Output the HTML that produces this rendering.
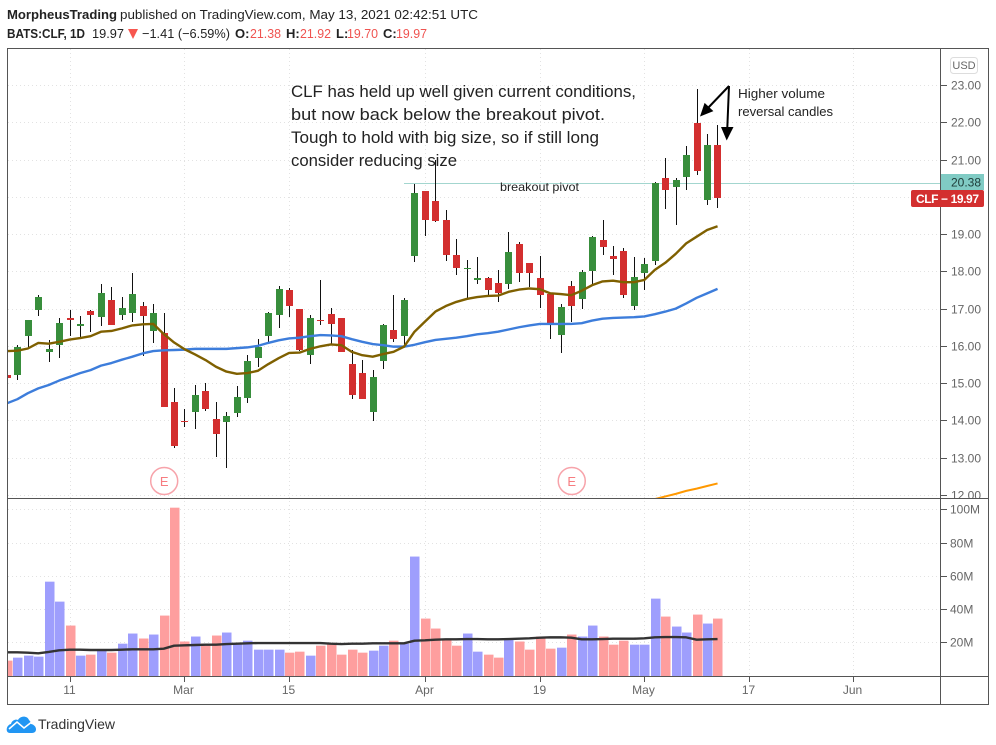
<!DOCTYPE html>
<html lang="en">
<head>
<meta charset="utf-8">
<title>CLF chart</title>
<style>
html,body{margin:0;padding:0;background:#fff;width:996px;height:745px;overflow:hidden}
svg{display:block;font-family:"Liberation Sans",sans-serif}
.axis{font-size:12px;fill:#666}
.hdr{font-size:13px;fill:#222}
.note{font-size:16.5px;fill:#222}
</style>
</head>
<body>
<svg id="chart" width="996" height="745" viewBox="0 0 996 745" xmlns="http://www.w3.org/2000/svg">
<defs>
<clipPath id="main-clip"><rect x="8" y="49" width="932" height="449"/></clipPath>
<clipPath id="vol-clip"><rect x="8" y="499" width="932" height="177"/></clipPath>
<clipPath id="axis-clip"><rect x="941" y="49" width="47" height="449"/></clipPath>
</defs>
<g>
<text class="hdr" x="7" y="19" font-weight="bold" textLength="110" lengthAdjust="spacingAndGlyphs">MorpheusTrading</text>
<text class="hdr" x="120" y="19" textLength="358" lengthAdjust="spacingAndGlyphs">published on TradingView.com, May 13, 2021 02:42:51 UTC</text>
<text class="hdr" x="7" y="38" font-weight="bold" textLength="78" lengthAdjust="spacingAndGlyphs">BATS:CLF, 1D</text>
<text class="hdr" x="92" y="38" textLength="32" lengthAdjust="spacingAndGlyphs">19.97</text>
<polygon points="128,29 138,29 133,39" fill="#f7564f"/>
<text class="hdr" x="142" y="38" textLength="88" lengthAdjust="spacingAndGlyphs">−1.41 (−6.59%)</text>
<text class="hdr" x="235" y="38" font-weight="bold">O:</text>
<text class="hdr" x="250" y="38" style="fill:#ef5350" textLength="31" lengthAdjust="spacingAndGlyphs">21.38</text>
<text class="hdr" x="286" y="38" font-weight="bold">H:</text>
<text class="hdr" x="300" y="38" style="fill:#ef5350" textLength="31" lengthAdjust="spacingAndGlyphs">21.92</text>
<text class="hdr" x="336" y="38" font-weight="bold">L:</text>
<text class="hdr" x="347" y="38" style="fill:#ef5350" textLength="31" lengthAdjust="spacingAndGlyphs">19.70</text>
<text class="hdr" x="383" y="38" font-weight="bold">C:</text>
<text class="hdr" x="396" y="38" style="fill:#ef5350" textLength="31" lengthAdjust="spacingAndGlyphs">19.97</text>
</g>
<g id="grid"></g>
<g id="volume-layer" clip-path="url(#vol-clip)"></g>
<line x1="404" x2="940" y1="183.5" y2="183.5" stroke="#a3d6cf" stroke-width="1"/>
<g id="main-layer" clip-path="url(#main-clip)"></g>
<g id="axes"></g>
<g fill="none" stroke="#555" stroke-width="1">
<rect x="7.5" y="48.5" width="981" height="656"/>
<line x1="7.5" x2="988.5" y1="498.5" y2="498.5"/>
<line x1="7.5" x2="988.5" y1="676.5" y2="676.5"/>
<line x1="940.5" x2="940.5" y1="48.5" y2="704.5"/>
</g>
<g>
<text class="note" x="291" y="97" textLength="345" lengthAdjust="spacingAndGlyphs">CLF has held up well given current conditions,</text>
<text class="note" x="291" y="120" textLength="314" lengthAdjust="spacingAndGlyphs">but now back below the breakout pivot.</text>
<text class="note" x="291" y="143" textLength="308" lengthAdjust="spacingAndGlyphs">Tough to hold with big size, so if still long</text>
<text class="note" x="291" y="166" textLength="166" lengthAdjust="spacingAndGlyphs">consider reducing size</text>
<text x="500" y="191" font-size="12" fill="#222" textLength="79" lengthAdjust="spacingAndGlyphs">breakout pivot</text>
<text x="738" y="98" font-size="12.5" fill="#222" textLength="87" lengthAdjust="spacingAndGlyphs">Higher volume</text>
<text x="738" y="116" font-size="12.5" fill="#222" textLength="95" lengthAdjust="spacingAndGlyphs">reversal candles</text>
</g>
<g>
<line x1="729" y1="86" x2="707" y2="109" stroke="#000" stroke-width="2"/>
<polygon points="700,116.5 713.4,111.1 704.6,102.9" fill="#000"/>
<line x1="729" y1="86" x2="727.3" y2="128" stroke="#000" stroke-width="2"/>
<polygon points="726.7,140.5 721,127 733.5,127" fill="#000"/>
</g>
<g>
<rect x="950.5" y="57.5" width="27" height="16" rx="3" fill="#fff" stroke="#ddd"/>
<text x="964" y="69" font-size="11" fill="#666" text-anchor="middle">USD</text>
<rect x="941" y="174" width="43" height="16" fill="#80cbc4"/>
<text x="951" y="186.5" font-size="12" fill="#1d3b38">20.38</text>
<rect x="911" y="190" width="73" height="17" rx="2" fill="#d32f2f"/>
<text x="916" y="203" font-size="12" font-weight="bold" fill="#fff" textLength="63">CLF − 19.97</text>
</g>
<g>
<path d="M10 733 C5 733 6 725 11 724 C12 720 16 719 18 720 C20 716 27 715 29 720 C31 722 31 723 31 724 C37 725 38 733 32 733 Z" fill="#2196f3"/>
<polyline points="9,729 17,722 24,728 33,721" fill="none" stroke="#fff" stroke-width="1.5"/>
<text x="38" y="729" font-size="14" fill="#333" textLength="77" lengthAdjust="spacingAndGlyphs">TradingView</text>
</g>
</svg>
<script>
const opens=[15.22,15.22,16.26,16.96,15.84,16.02,16.75,16.53,16.94,16.77,17.23,16.83,16.88,17.07,16.40,16.35,14.49,13.98,14.23,14.79,14.04,13.96,14.20,14.60,15.67,16.26,16.83,17.50,16.99,15.75,16.69,16.86,16.75,15.51,15.27,14.23,15.59,16.43,16.26,18.41,20.16,19.89,19.38,18.44,18.06,17.77,17.82,17.69,17.66,18.73,18.22,17.82,17.39,16.29,17.61,17.26,18.01,18.84,18.41,18.55,17.07,17.96,18.28,20.50,20.26,20.53,21.98,19.91,21.38];
const highs=[15.22,16.02,16.69,17.36,16.16,16.75,16.96,16.80,16.96,17.66,17.58,17.31,17.96,17.18,17.12,16.88,14.87,14.31,14.95,15.00,14.49,14.23,14.92,15.75,16.18,16.91,17.61,17.55,16.99,16.83,17.77,17.02,16.75,15.89,15.62,15.35,16.59,17.36,17.28,20.34,20.16,20.99,19.65,18.87,18.30,18.38,17.85,18.04,19.06,18.79,18.22,18.41,17.39,17.12,17.74,18.04,18.95,19.38,18.68,18.63,18.38,18.36,20.40,21.04,20.50,21.36,22.89,21.68,21.92];
const lows=[15.14,15.08,15.97,16.80,15.57,15.67,16.26,16.24,16.37,16.53,16.56,16.69,16.64,15.73,16.08,14.36,13.26,13.82,13.77,14.25,13.02,12.72,14.09,14.47,15.43,16.10,16.48,16.77,15.86,15.51,16.56,16.05,15.84,14.57,14.57,13.98,15.38,16.10,15.97,18.25,18.95,19.32,18.28,17.90,17.26,17.66,17.31,17.18,17.53,17.71,17.58,17.02,16.18,15.81,16.64,16.99,17.63,18.44,17.90,17.28,16.96,17.50,18.17,19.67,19.24,20.18,20.58,19.78,19.70];
const closes=[15.14,15.97,16.69,17.31,15.92,16.61,16.69,16.59,16.83,17.42,16.56,17.02,17.39,16.80,16.88,14.36,13.31,13.96,14.68,14.31,13.64,14.12,14.63,15.59,15.97,16.88,17.53,17.07,15.89,16.75,16.67,16.59,15.84,14.68,14.57,15.16,16.56,16.18,17.23,20.10,19.38,19.35,18.44,18.09,18.09,17.82,17.50,17.42,18.52,17.96,17.96,17.36,16.59,17.04,17.07,17.98,18.92,18.65,18.33,17.36,17.85,18.20,20.37,20.18,20.45,21.12,20.69,21.39,19.97];
const ema20=[15.86,15.87,15.93,16.08,16.06,16.11,16.17,16.21,16.26,16.38,16.40,16.47,16.55,16.58,16.59,16.32,16.09,15.91,15.77,15.62,15.44,15.31,15.25,15.27,15.33,15.51,15.67,15.81,15.82,15.92,15.99,16.04,16.02,15.84,15.75,15.71,15.78,15.84,15.98,16.38,16.65,16.92,17.07,17.18,17.26,17.31,17.34,17.35,17.45,17.51,17.54,17.52,17.41,17.39,17.36,17.48,17.63,17.73,17.75,17.71,17.71,17.77,18.04,18.23,18.47,18.75,18.93,19.11,19.21];
const ema50=[14.46,14.57,14.73,14.86,14.95,15.07,15.17,15.27,15.35,15.47,15.54,15.63,15.71,15.80,15.86,15.88,15.89,15.90,15.92,15.92,15.92,15.92,15.94,15.96,16.00,16.08,16.15,16.20,16.22,16.26,16.29,16.28,16.26,16.18,16.11,16.05,16.02,15.98,15.98,16.03,16.10,16.16,16.19,16.22,16.26,16.31,16.34,16.38,16.44,16.50,16.55,16.59,16.59,16.59,16.59,16.61,16.68,16.73,16.75,16.76,16.77,16.79,16.85,16.92,17.00,17.14,17.29,17.41,17.53];
const sma200Start=62;
const sma200=[11.89,11.96,12.03,12.11,12.17,12.24,12.31];
const volumes=[9.0,10.8,12.0,11.4,56.5,44.5,30.1,12.0,12.6,15.0,13.8,19.2,25.3,22.3,24.7,36.1,101.0,20.5,23.5,19.2,24.1,25.9,19.2,21.0,15.6,15.6,15.6,13.8,14.4,12.0,18.0,19.2,12.6,15.6,13.8,15.0,18.0,21.0,19.2,71.6,34.3,28.3,21.7,18.0,25.3,14.4,12.6,10.8,22.3,20.5,15.6,23.5,16.2,16.8,24.7,23.5,30.1,23.5,18.6,21.0,18.6,18.6,46.3,35.5,29.5,25.9,36.7,31.3,34.3];
const volumeMA=[14.0,14.0,13.8,13.4,14.2,15.2,15.6,15.6,15.4,15.4,15.4,15.6,15.8,15.8,15.8,16.2,18.0,18.2,18.4,18.6,18.6,19.0,19.2,19.4,19.6,19.6,19.6,19.6,19.6,19.6,19.6,19.2,19.0,19.2,19.2,19.4,19.4,19.4,19.4,21.0,21.2,21.6,21.8,21.8,22.0,22.0,21.8,21.8,22.0,22.2,22.4,22.8,23.0,23.0,22.8,21.8,21.8,22.0,22.2,22.2,22.2,22.4,23.0,23.2,23.2,23.0,21.6,21.8,22.0];
const priceTicks=[23,22,21,20,19,18,17,16,15,14,13,12];
const volumeTicks=[100,80,60,40,20];
const timeLabels=['11','Mar','15','Apr','19','May','17','Jun'];
const timeIndex=[6,17,27,40,51,61,71,81];
const earningsIndex=[15,54];

const NS='http://www.w3.org/2000/svg';
const xOf=i=>6.95+10.45*i;
const xPx=i=>Math.floor(xOf(i)+0.4);
const yOf=p=>85+(23-p)*37.27;
const vOf=v=>675.6-v*1.6625;
function mk(tag,attrs,parent){
  const e=document.createElementNS(NS,tag);
  for(const k in attrs)e.setAttribute(k,attrs[k]);
  parent.appendChild(e);
  return e;
}
const grid=document.getElementById('grid');
const axes=document.getElementById('axes');
const mainLayer=document.getElementById('main-layer');
const volLayer=document.getElementById('volume-layer');
const priceLabelClip=mk('g',{'clip-path':'url(#axis-clip)'},axes);


const dash={stroke:'#e2e2e2','stroke-width':1,'stroke-dasharray':'1 3'};

priceTicks.forEach(p=>{
  const y=Math.round(yOf(p))+0.5;
  const g=mk('line',Object.assign({x1:8,x2:940,y1:y,y2:y},dash),grid);
  
  
  const t=mk('line',{x1:941,x2:947,y1:y,y2:y,stroke:'#555'},axes);
  
  
  const l=mk('text',{x:951,y:y+4,class:'axis'},priceLabelClip);
  
  
  l.textContent=p.toFixed(2);
});
volumeTicks.forEach(v=>{
  const y=Math.round(vOf(v))+0.5;
  const g=mk('line',Object.assign({x1:8,x2:940,y1:y,y2:y},dash),grid);
  
  
  const t=mk('line',{x1:941,x2:947,y1:y,y2:y,stroke:'#555'},axes);
  
  
  const l=mk('text',{x:950,y:y+4,class:'axis'},axes);
  
  
  l.textContent=v+'M';
});
timeLabels.forEach((lab,n)=>{
  const x=xPx(timeIndex[n])+0.5;
  const g=mk('line',Object.assign({x1:x,x2:x,y1:49,y2:676},dash),grid);
  
  
  const t=mk('line',{x1:x,x2:x,y1:677,y2:682,stroke:'#555'},axes);
  
  
  const l=mk('text',{x:x-1,y:694,class:'axis','text-anchor':'middle'},axes);
  
  
  l.textContent=lab;
});

volumes.forEach((v,i)=>{
  const up=closes[i]>=opens[i];
  const top=vOf(v);
  const b=mk('rect',{x:xPx(i)-4,y:top,width:9.5,height:676-top,fill:up?'#9e9efd':'#fe9e9e'},volLayer);
  
  
});
const volPath=mk('polyline',{points:volumeMA.map((v,i)=>xOf(i)+','+vOf(v)).join(' '),fill:'none',stroke:'#333','stroke-width':2.4,'stroke-linejoin':'round'},volLayer);



opens.forEach((o,i)=>{
  const c=closes[i];
  const cx=xPx(i);
  const top=Math.round(yOf(Math.max(o,c)));
  const bot=Math.round(yOf(Math.min(o,c)));
  const hi=Math.round(yOf(highs[i]));
  const lo=Math.round(yOf(lows[i]));
  const w=mk('rect',{x:cx,y:hi,width:1,height:Math.max(0,lo-hi),fill:'#111'},mainLayer);
  
  
  const b=mk('rect',{x:cx-3,y:top,width:7,height:Math.max(1,bot-top),fill:c>=o?'#388e3c':'#d32f2f'},mainLayer);
  
  
});
const blue=mk('polyline',{points:ema50.map((p,i)=>xOf(i)+','+yOf(p)).join(' '),fill:'none',stroke:'#3d7ddb','stroke-width':2.4,'stroke-linejoin':'round'},mainLayer);


const brown=mk('polyline',{points:ema20.map((p,i)=>xOf(i)+','+yOf(p)).join(' '),fill:'none',stroke:'#7f6000','stroke-width':2.4,'stroke-linejoin':'round'},mainLayer);


const orange=mk('polyline',{points:sma200.map((p,i)=>xOf(i+sma200Start)+','+yOf(p)).join(' '),fill:'none',stroke:'#ff9800','stroke-width':2},mainLayer);



earningsIndex.forEach(i=>{
  const x=xOf(i)+0.5;
  const c=mk('circle',{cx:x,cy:481,r:13.5,fill:'#fff',stroke:'#f7a3aa','stroke-width':1.5},mainLayer);
  
  
  const t=mk('text',{x:x,y:486,'text-anchor':'middle','font-size':13,fill:'#f77c80'},mainLayer);
  
  
  t.textContent='E';
});
</script>
</body>
</html>
